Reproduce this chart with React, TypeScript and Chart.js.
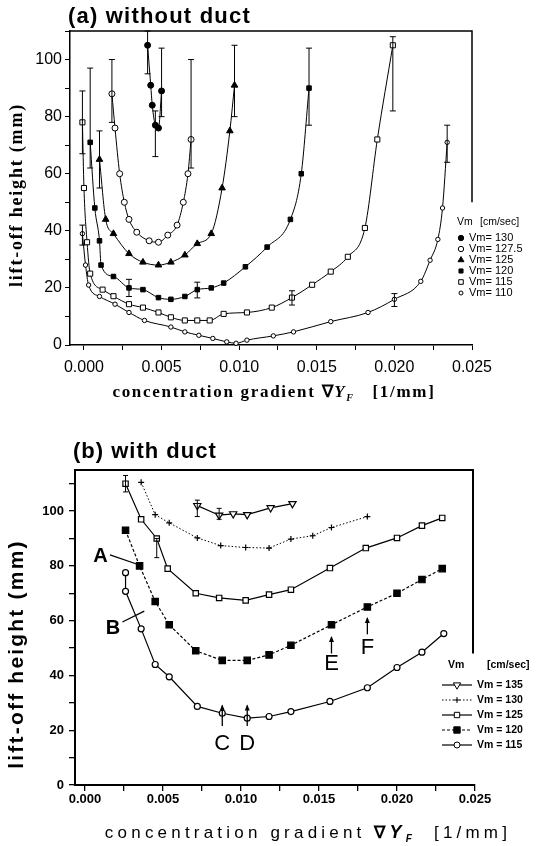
import React, { useEffect, useRef } from "react";
import { Chart, registerables } from "chart.js";

Chart.register(...registerables);

// ================= Panel (a): without duct =================
const aTitle = "(a) without duct";
const aXTicks = [0, 0.0025, 0.005, 0.0075, 0.01, 0.0125, 0.015, 0.0175, 0.02, 0.0225, 0.025];
const aYTicks = [0, 10, 20, 30, 40, 50, 60, 70, 80, 90, 100, 110];
const aLabels = ["Vm= 130", "Vm= 127.5", "Vm= 125", "Vm= 120", "Vm= 115", "Vm= 110"];

const a130x = [0.0041, 0.0043, 0.0044, 0.0046, 0.0048, 0.005];
const a130y = [105, 91, 84, 77, 76, 89];

const a1275x = [0.0018, 0.002, 0.0023, 0.0026, 0.0029, 0.0034, 0.0042, 0.0048, 0.0054, 0.006, 0.0064, 0.0067, 0.0069];
const a1275y = [88, 76, 60, 50, 44, 39.5, 36.5, 36, 38.5, 42, 50, 60, 72];

const a125x = [0.001, 0.0014, 0.0019, 0.0029, 0.0038, 0.0048, 0.0056, 0.0065, 0.0073, 0.0082, 0.0089, 0.0094, 0.0097];
const a125y = [65, 44, 39, 32, 29, 28, 29, 31.5, 35.5, 39, 55, 75, 91];

const a120x = [0.0004, 0.0007, 0.001, 0.0011, 0.0019, 0.0029, 0.0038, 0.0048, 0.0056, 0.0065, 0.0073, 0.0082, 0.009, 0.0104, 0.0118, 0.0133, 0.014, 0.0145];
const a120y = [71, 48, 36.5, 28, 24, 20, 19.4, 16.6, 16, 17, 19.4, 20, 21.7, 27.4, 34.3, 44, 60, 90];

const a115x = [-0.0001, 0.0, 0.0002, 0.0004, 0.0012, 0.0019, 0.0029, 0.0038, 0.0048, 0.0056, 0.0065, 0.0073, 0.0081, 0.009, 0.0105, 0.0121, 0.0134, 0.0147, 0.0159, 0.017, 0.0181, 0.0189, 0.0199];
const a115y = [78, 55, 36, 25, 19.4, 17.1, 14.3, 13.1, 11.4, 9.7, 8.6, 8.6, 8.6, 10.9, 11.4, 13.1, 16.6, 21.1, 25.7, 30.9, 41, 72, 105];

const a110x = [-0.0001, 0.0001, 0.0003, 0.001, 0.002, 0.0029, 0.0039, 0.0056, 0.0065, 0.0074, 0.0083, 0.0092, 0.0098, 0.0105, 0.0122, 0.0135, 0.0159, 0.0183, 0.02, 0.0217, 0.0223, 0.0228, 0.0231, 0.0234];
const a110y = [39, 28, 21, 17, 14.3, 11.4, 8.6, 6.3, 4.6, 3.4, 2.3, 1.1, 0.6, 1.7, 3.2, 4.6, 8.2, 11.4, 16, 22.3, 29.7, 37, 48, 71];

// error bars (x, low, high)
const a130ErrX = [0.0041, 0.0046, 0.005];
const a130ErrLo = [95, 66, 80];
const a130ErrHi = [110, 82, 104];
const a1275ErrX = [0.0018, 0.0069];
const a1275ErrLo = [78, 62];
const a1275ErrHi = [100, 100];
const a125ErrX = [0.001, 0.0097];
const a125ErrLo = [55, 80];
const a125ErrHi = [75, 105];
const a120ErrX = [0.0004, 0.0145, 0.0029, 0.0073];
const a120ErrLo = [62, 77, 17, 16.5];
const a120ErrHi = [97, 104, 23, 22];
const a115ErrX = [-0.0001, 0.0199, 0.0134];
const a115ErrLo = [67, 82, 14];
const a115ErrHi = [89, 108, 19];
const a110ErrX = [-0.0001, 0.0234, 0.02];
const a110ErrLo = [35, 64, 13.5];
const a110ErrHi = [42, 77, 18];

// ================= Panel (b): with duct =================
const bTitle = "(b) with duct";
const bXTicks = [0, 0.0025, 0.005, 0.0075, 0.01, 0.0125, 0.015, 0.0175, 0.02, 0.0225, 0.025];
const bYTicks = [0, 10, 20, 30, 40, 50, 60, 70, 80, 90, 100, 110];
const bLabels = ["Vm = 135", "Vm = 130", "Vm = 125", "Vm = 120", "Vm = 115"];

const b135x = [0.0072, 0.0086, 0.0095, 0.0104, 0.0119, 0.0133];
const b135y = [102, 98.5, 99, 98.7, 101.2, 102.7];

const b130x = [0.0036, 0.0045, 0.0054, 0.0072, 0.0087, 0.0103, 0.0118, 0.0132, 0.0146, 0.0158, 0.0181];
const b130y = [110.5, 98.7, 95.7, 90.2, 87.4, 86.7, 86.5, 89.8, 91, 94, 98];

const b125x = [0.0026, 0.0036, 0.0046, 0.0053, 0.0071, 0.0086, 0.0103, 0.0118, 0.0132, 0.0157, 0.018, 0.02, 0.0216, 0.0229];
const b125y = [110, 97, 90, 79, 70, 68.3, 67.4, 69.5, 71.3, 79.2, 86.5, 90.2, 94.7, 97.5];

const b120x = [0.0026, 0.0035, 0.0045, 0.0054, 0.0071, 0.0088, 0.0104, 0.0118, 0.0132, 0.0158, 0.0181, 0.02, 0.0216, 0.0229];
const b120y = [93, 80, 67, 58.5, 49, 45.5, 45.5, 47.5, 51, 58.5, 65, 70, 75, 79];

const b115x = [0.0026, 0.0026, 0.0036, 0.0045, 0.0054, 0.0072, 0.0088, 0.0104, 0.0118, 0.0132, 0.0157, 0.0181, 0.02, 0.0216, 0.023];
const b115y = [77.5, 70.7, 57, 44, 39.5, 28.7, 26.2, 24.4, 25, 26.8, 30.5, 35.5, 42.9, 48.5, 55.3];

const b135ErrX = [0.0072, 0.0086];
const b135ErrLo = [98, 97];
const b135ErrHi = [104, 101];
const b125ErrX = [0.0026, 0.0046];
const b125ErrLo = [107, 83];
const b125ErrHi = [113, 90];

// ================= helpers =================
type Err = { x: number[]; lo: number[]; hi: number[] };

function isMajor(v: number, step: number) {
  const q = v / step;
  return Math.abs(q - Math.round(q)) < 1e-6;
}

function drawMarker(ctx: CanvasRenderingContext2D, style: string, x: number, y: number, r: number, filled: boolean, rot = 0) {
  ctx.save();
  ctx.translate(x, y);
  ctx.rotate((rot * Math.PI) / 180);
  ctx.setLineDash([]);
  ctx.lineWidth = 1;
  ctx.strokeStyle = "#000";
  ctx.fillStyle = filled ? "#000" : "#fff";
  ctx.beginPath();
  if (style === "circle") ctx.arc(0, 0, r, 0, Math.PI * 2);
  else if (style === "rect") {
    const s = r * Math.SQRT1_2;
    ctx.rect(-s, -s, 2 * s, 2 * s);
  } else if (style === "triangle") {
    ctx.moveTo(0, -r);
    ctx.lineTo(r * 0.866, r * 0.5);
    ctx.lineTo(-r * 0.866, r * 0.5);
    ctx.closePath();
  } else if (style === "cross") {
    ctx.moveTo(0, -r);
    ctx.lineTo(0, r);
    ctx.moveTo(-r, 0);
    ctx.lineTo(r, 0);
  }
  if (style !== "cross") ctx.fill();
  ctx.stroke();
  ctx.restore();
}

function drawRich(ctx: any, parts: { t: string; f: string; dy?: number }[], cx: number, cy: number, spacing: string) {
  ctx.save();
  ctx.letterSpacing = spacing;
  ctx.textBaseline = "middle";
  ctx.textAlign = "left";
  ctx.fillStyle = "#000";
  let total = 0;
  const ws = parts.map((p) => {
    ctx.font = p.f;
    const w = ctx.measureText(p.t).width;
    total += w;
    return w;
  });
  let x = cx - total / 2;
  parts.forEach((p, i) => {
    ctx.font = p.f;
    ctx.fillText(p.t, x, cy + (p.dy || 0));
    x += ws[i];
  });
  ctx.restore();
}

function drawRotated(ctx: any, text: string, font: string, cx: number, cy: number, spacing: string) {
  ctx.save();
  ctx.translate(cx, cy);
  ctx.rotate(-Math.PI / 2);
  ctx.letterSpacing = spacing;
  ctx.font = font;
  ctx.fillStyle = "#000";
  ctx.textAlign = "center";
  ctx.textBaseline = "middle";
  ctx.fillText(text, 0, 0);
  ctx.restore();
}

function drawErrors(chart: any, sets: Err[], cap: number) {
  const { ctx } = chart;
  const xs = chart.scales.x;
  const ys = chart.scales.y;
  ctx.save();
  ctx.strokeStyle = "#000";
  ctx.lineWidth = 1;
  ctx.setLineDash([]);
  sets.forEach((s) =>
    s.x.forEach((xv, i) => {
      const px = xs.getPixelForValue(xv);
      const p1 = ys.getPixelForValue(s.lo[i]);
      const p2 = ys.getPixelForValue(s.hi[i]);
      ctx.beginPath();
      ctx.moveTo(px, p1);
      ctx.lineTo(px, p2);
      ctx.moveTo(px - cap, p1);
      ctx.lineTo(px + cap, p1);
      ctx.moveTo(px - cap, p2);
      ctx.lineTo(px + cap, p2);
      ctx.stroke();
    })
  );
  ctx.restore();
}

function pts(xs: number[], ys: number[]) {
  return xs.map((x, i) => ({ x, y: ys[i] }));
}

// ================= chart (a) config =================
const aStyles = [
  { style: "circle", r: 3, fill: true },
  { style: "circle", r: 3, fill: false },
  { style: "triangle", r: 3.8, fill: true },
  { style: "rect", r: 3.2, fill: true },
  { style: "rect", r: 3.6, fill: false },
  { style: "circle", r: 2.2, fill: false },
];
const aData = [
  [a130x, a130y],
  [a1275x, a1275y],
  [a125x, a125y],
  [a120x, a120y],
  [a115x, a115y],
  [a110x, a110y],
];
const aErrs: Err[] = [
  { x: a130ErrX, lo: a130ErrLo, hi: a130ErrHi },
  { x: a1275ErrX, lo: a1275ErrLo, hi: a1275ErrHi },
  { x: a125ErrX, lo: a125ErrLo, hi: a125ErrHi },
  { x: a120ErrX, lo: a120ErrLo, hi: a120ErrHi },
  { x: a115ErrX, lo: a115ErrLo, hi: a115ErrHi },
  { x: a110ErrX, lo: a110ErrLo, hi: a110ErrHi },
];

const serif = '"Liberation Serif", "Times New Roman", serif';
const sans = '"Liberation Sans", Arial, sans-serif';

function configA(): any {
  const decor = {
    id: "decorA",
    afterDraw(chart: any) {
      const { ctx, chartArea: ca } = chart;
      const ys = chart.scales.y;
      ctx.save();
      ctx.strokeStyle = "#000";
      ctx.lineWidth = 1.5;
      ctx.beginPath();
      ctx.moveTo(ca.left, ca.top);
      ctx.lineTo(ca.right, ca.top);
      ctx.lineTo(ca.right, ys.getPixelForValue(50));
      ctx.stroke();
      ctx.restore();
      drawErrors(chart, aErrs, 3);
      ctx.save();
      ctx.font = `bold 22px ${sans}`;
      (ctx as any).letterSpacing = "1.2px";
      ctx.fillStyle = "#000";
      ctx.textAlign = "left";
      ctx.textBaseline = "middle";
      ctx.fillText(aTitle, 68, 17);
      ctx.restore();
      drawRotated(ctx, "lift-off height (mm)", `bold 18px ${serif}`, 17, 195, "1.8px");
      drawRich(
        ctx,
        [
          { t: "concentration gradient ", f: `bold 17px ${serif}` },
          { t: "\u2207", f: `bold 17px ${serif}` },
          { t: "Y", f: `bold italic 17px ${serif}` },
          { t: "F", f: `bold italic 10px ${serif}`, dy: 5 },
          { t: "   [1/mm]", f: `bold 17px ${serif}` },
        ],
        274,
        393,
        "1.7px"
      );
      ctx.save();
      ctx.fillStyle = "#000";
      ctx.font = `10.5px ${sans}`;
      ctx.textBaseline = "middle";
      ctx.textAlign = "left";
      ctx.fillText("Vm", 457, 222);
      ctx.fillText("[cm/sec]", 480, 222);
      ctx.restore();
      aLabels.forEach((lab, i) => {
        const y = 238 + i * 11;
        const st = aStyles[i];
        drawMarker(ctx, st.style, 461, y, st.r * 0.9, st.fill);
        ctx.save();
        ctx.fillStyle = "#000";
        ctx.font = `11px ${sans}`;
        ctx.textBaseline = "middle";
        ctx.fillText(lab, 469, y);
        ctx.restore();
      });
    },
  };
  return {
    type: "scatter",
    data: {
      datasets: aData.map((d, i) => ({
        label: aLabels[i],
        data: pts(d[0], d[1]),
        showLine: true,
        borderColor: "#000",
        borderWidth: 1,
        pointStyle: aStyles[i].style,
        pointRadius: aStyles[i].r,
        pointBackgroundColor: aStyles[i].fill ? "#000" : "#fff",
        pointBorderColor: "#000",
        pointBorderWidth: 1,
        cubicInterpolationMode: "monotone",
        clip: false,
      })),
    },
    options: {
      responsive: false,
      animation: false,
      events: [],
      layout: { padding: { top: 31, right: 67, left: 0, bottom: 0 } },
      plugins: { legend: { display: false }, tooltip: { enabled: false }, title: { display: false } },
      scales: {
        x: {
          type: "linear",
          min: -0.0009,
          max: 0.025,
          afterBuildTicks: (s: any) => {
            s.ticks = aXTicks.map((v) => ({ value: v }));
          },
          afterFit: (s: any) => {
            s.height = 65;
          },
          ticks: {
            autoSkip: false,
            maxRotation: 0,
            padding: 8,
            color: "#000",
            font: { family: sans, size: 16 },
            callback: (v: any) => (isMajor(Number(v), 0.005) ? Number(v).toFixed(3) : ""),
          },
          grid: { drawOnChartArea: false, drawTicks: true, tickLength: 5, color: "#000" },
          border: { color: "#000", width: 1.5 },
        },
        y: {
          type: "linear",
          min: 0,
          max: 110,
          afterBuildTicks: (s: any) => {
            s.ticks = aYTicks.map((v) => ({ value: v }));
          },
          afterFit: (s: any) => {
            s.width = 70;
          },
          ticks: {
            autoSkip: false,
            padding: 3,
            color: "#000",
            font: { family: sans, size: 16 },
            callback: (v: any) => (Number(v) % 20 === 0 ? String(v) : ""),
          },
          grid: { drawOnChartArea: false, drawTicks: true, tickLength: 5, color: "#000" },
          border: { color: "#000", width: 1.5 },
        },
      },
    },
    plugins: [decor],
  };
}

// ================= chart (b) config =================
const bStyles = [
  { style: "triangle", r: 4.2, fill: false, rot: 180, dash: [] as number[], lw: 1.2 },
  { style: "cross", r: 3, fill: true, rot: 0, dash: [1.5, 2], lw: 1 },
  { style: "rect", r: 3.8, fill: false, rot: 0, dash: [] as number[], lw: 1.2 },
  { style: "rect", r: 4.5, fill: true, rot: 0, dash: [3, 2], lw: 1.2 },
  { style: "circle", r: 3, fill: false, rot: 0, dash: [] as number[], lw: 1.2 },
];
const bData = [
  [b135x, b135y],
  [b130x, b130y],
  [b125x, b125y],
  [b120x, b120y],
  [b115x, b115y],
];
const bErrs: Err[] = [
  { x: b135ErrX, lo: b135ErrLo, hi: b135ErrHi },
  { x: b125ErrX, lo: b125ErrLo, hi: b125ErrHi },
];

function configB(): any {
  const decor = {
    id: "decorB",
    afterDraw(chart: any) {
      const { ctx, chartArea: ca } = chart;
      const xs = chart.scales.x;
      const ys = chart.scales.y;
      const X = (v: number) => xs.getPixelForValue(v);
      const Y = (v: number) => ys.getPixelForValue(v);
      ctx.save();
      ctx.strokeStyle = "#000";
      ctx.lineWidth = 2;
      ctx.beginPath();
      ctx.moveTo(ca.left, ca.top);
      ctx.lineTo(ca.right - 2, ca.top);
      ctx.lineTo(ca.right - 2, Y(48));
      ctx.stroke();
      ctx.restore();
      drawErrors(chart, bErrs, 2.5);
      ctx.save();
      ctx.font = `bold 22px ${sans}`;
      (ctx as any).letterSpacing = "1px";
      ctx.fillStyle = "#000";
      ctx.textBaseline = "middle";
      ctx.fillText(bTitle, 73, 452 - 420);
      ctx.restore();
      drawRotated(ctx, "lift-off height (mm)", `bold 21px ${sans}`, 17, 654 - 420, "2.2px");
      drawRich(
        ctx,
        [
          { t: "concentration gradient ", f: `17px ${sans}` },
          { t: "\u2207", f: `bold 17px ${sans}` },
          { t: "Y", f: `bold italic 18px ${sans}` },
          { t: "F", f: `bold italic 10px ${sans}`, dy: 6 },
          { t: "  [1/mm]", f: `17px ${sans}` },
        ],
        308,
        833 - 420,
        "4.2px"
      );
      ctx.save();
      ctx.fillStyle = "#000";
      ctx.strokeStyle = "#000";
      ctx.lineWidth = 1.3;
      ctx.textAlign = "center";
      ctx.textBaseline = "middle";
      ctx.font = `bold 20px ${sans}`;
      ctx.fillText("A", X(0.001), Y(83.5));
      ctx.fillText("B", X(0.0018), Y(57));
      ctx.beginPath();
      ctx.moveTo(X(0.0016), Y(84));
      ctx.lineTo(X(0.0034), Y(80.5));
      ctx.moveTo(X(0.0024), Y(59.5));
      ctx.lineTo(X(0.0038), Y(63.5));
      ctx.stroke();
      ctx.font = `22px ${sans}`;
      const arrows: [string, number, number, number, number][] = [
        ["C", 0.0088, 15, 21.5, 29],
        ["D", 0.0104, 15, 21.5, 29],
        ["E", 0.0158, 44.2, 48, 54],
        ["F", 0.0181, 50, 55, 61],
      ];
      arrows.forEach(([t, xv, ty, y1, y2]) => {
        const px = X(xv);
        ctx.fillText(t, px, Y(ty));
        ctx.beginPath();
        ctx.moveTo(px, Y(y1));
        ctx.lineTo(px, Y(y2));
        ctx.stroke();
        ctx.beginPath();
        ctx.moveTo(px, Y(y2) - 1);
        ctx.lineTo(px - 2.5, Y(y2) + 5);
        ctx.lineTo(px + 2.5, Y(y2) + 5);
        ctx.closePath();
        ctx.fill();
      });
      ctx.restore();
      const top = 665 - 420;
      ctx.save();
      ctx.fillStyle = "#000";
      ctx.font = `bold 10.5px ${sans}`;
      ctx.textBaseline = "middle";
      ctx.fillText("Vm", 448, top);
      ctx.fillText("[cm/sec]", 487, top);
      ctx.restore();
      bLabels.forEach((lab, i) => {
        const y = top + 20 + i * 15;
        const st = bStyles[i];
        ctx.save();
        ctx.strokeStyle = "#000";
        ctx.lineWidth = st.lw;
        ctx.setLineDash(st.dash);
        ctx.beginPath();
        ctx.moveTo(442, y);
        ctx.lineTo(472, y);
        ctx.stroke();
        ctx.restore();
        drawMarker(ctx, st.style, 457, y, st.r, st.fill, st.rot);
        ctx.save();
        ctx.fillStyle = "#000";
        ctx.font = `bold 10.5px ${sans}`;
        ctx.textBaseline = "middle";
        ctx.fillText(lab, 477, y);
        ctx.restore();
      });
    },
  };
  return {
    type: "scatter",
    data: {
      datasets: bData.map((d, i) => ({
        label: bLabels[i],
        data: pts(d[0], d[1]),
        showLine: true,
        borderColor: "#000",
        borderWidth: bStyles[i].lw,
        borderDash: bStyles[i].dash,
        pointStyle: bStyles[i].style,
        pointRadius: bStyles[i].r,
        pointRotation: bStyles[i].rot,
        pointBackgroundColor: bStyles[i].fill ? "#000" : "#fff",
        pointBorderColor: "#000",
        pointBorderWidth: 1.2,
        tension: 0,
        clip: false,
      })),
    },
    options: {
      responsive: false,
      animation: false,
      events: [],
      layout: { padding: { top: 50, right: 64, left: 0, bottom: 0 } },
      plugins: { legend: { display: false }, tooltip: { enabled: false }, title: { display: false } },
      scales: {
        x: {
          type: "linear",
          min: -0.00064,
          max: 0.025,
          afterBuildTicks: (s: any) => {
            s.ticks = bXTicks.map((v) => ({ value: v }));
          },
          afterFit: (s: any) => {
            s.height = 61;
          },
          ticks: {
            autoSkip: false,
            maxRotation: 0,
            padding: 1,
            color: "#000",
            font: { family: sans, size: 13, weight: "bold" },
            callback: (v: any) => (isMajor(Number(v), 0.005) ? Number(v).toFixed(3) : ""),
          },
          grid: { drawOnChartArea: false, drawTicks: true, tickLength: 6, color: "#000", lineWidth: 1.3 },
          border: { color: "#000", width: 2 },
        },
        y: {
          type: "linear",
          min: 0,
          max: 115,
          afterBuildTicks: (s: any) => {
            s.ticks = bYTicks.map((v) => ({ value: v }));
          },
          afterFit: (s: any) => {
            s.width = 75;
          },
          ticks: {
            autoSkip: false,
            padding: 5,
            color: "#000",
            font: { family: sans, size: 13, weight: "bold" },
            callback: (v: any) => (Number(v) % 20 === 0 ? String(v) : ""),
          },
          grid: { drawOnChartArea: false, drawTicks: true, tickLength: 6, color: "#000", lineWidth: 1.3 },
          border: { color: "#000", width: 2 },
        },
      },
    },
    plugins: [decor],
  };
}

export default function App() {
  const refA = useRef<HTMLCanvasElement>(null);
  const refB = useRef<HTMLCanvasElement>(null);
  useEffect(() => {
    const ca = new Chart(refA.current as HTMLCanvasElement, configA());
    const cb = new Chart(refB.current as HTMLCanvasElement, configB());
    return () => {
      ca.destroy();
      cb.destroy();
    };
  }, []);
  return (
    <div style={{ position: "absolute", left: 0, top: 0, width: 539, height: 846, background: "#fff" }}>
      <div style={{ position: "absolute", left: 0, top: 0, width: 539, height: 410 }}>
        <canvas ref={refA} width={539} height={410} style={{ display: "block" }} />
      </div>
      <div style={{ position: "absolute", left: 0, top: 420, width: 539, height: 426 }}>
        <canvas ref={refB} width={539} height={426} style={{ display: "block" }} />
      </div>
    </div>
  );
}
